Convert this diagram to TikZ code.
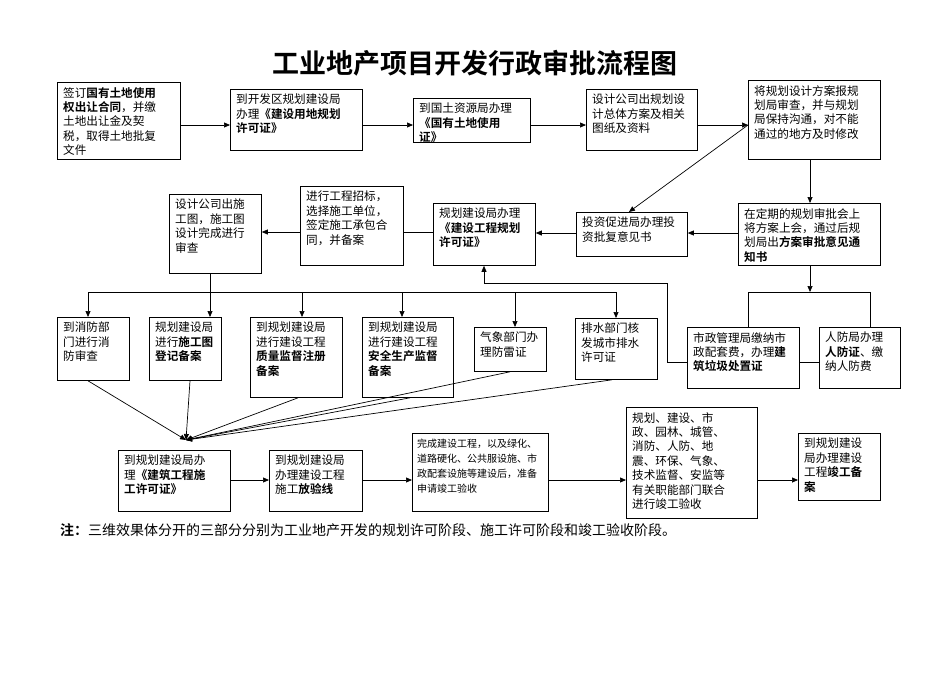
\documentclass[tikz,border=0pt]{standalone}
\usepackage{fontspec}
\setmainfont{Noto Sans CJK SC}[BoldFont={Noto Sans CJK SC Bold}]
\usetikzlibrary{arrows.meta,calc}
\tikzset{
  boxr/.style={draw, line width=0.8pt, inner sep=0pt, anchor=north west},
  txt/.style={anchor=north west, inner sep=0pt, align=left, font=\fontsize{11.6}{14.4}\selectfont},
  conn/.style={line width=0.7pt, -{Triangle[length=6pt,width=5pt]}},
  plain/.style={line width=0.7pt}
}
\newcommand{\bx}[6]{%
  \node[boxr, minimum width=#4pt, minimum height=#5pt] (#1) at (#2,#3) {};
  \node[txt] at ($(#1.north west)+(6,5)$) {#6};}
\begin{document}
\begin{tikzpicture}[x=1pt,y=-1pt]
\useasboundingbox (0,0) rectangle (950,672);
\node[font=\bfseries\fontsize{27}{30}\selectfont] (title) at (475,63) {工业地产项目开发行政审批流程图};
% row A
\bx{A1}{57}{82}{123}{77}{签订\textbf{国有土地使用}\\\textbf{权出让合同}，并缴\\土地出让金及契\\税，取得土地批复\\文件}
\bx{A2}{230}{89}{132}{61}{到开发区规划建设局\\办理\textbf{《建设用地规划}\\\textbf{许可证》}}
\bx{A3}{413}{98}{117}{44}{到国土资源局办理\\\textbf{《国有土地使用}\\\textbf{证》}}
\bx{A4}{586}{89}{111}{61}{设计公司出规划设\\计总体方案及相关\\图纸及资料}
\bx{A5}{748}{80}{132}{79}{将规划设计方案报规\\划局审查，并与规划\\局保持沟通，对不能\\通过的地方及时修改}
% row B
\bx{B1}{169}{194}{92}{79}{设计公司出施\\工图，施工图\\设计完成进行\\审查}
\bx{B2}{300}{186}{103}{79}{进行工程招标，\\选择施工单位，\\签定施工承包合\\同，并备案}
\bx{B3}{433}{203}{102}{62}{规划建设局办理\\\textbf{《建设工程规划}\\\textbf{许可证》}}
\bx{B4}{576}{212}{111}{44}{投资促进局办理投\\资批复意见书}
\bx{B5}{738}{203}{142}{62}{在定期的规划审批会上\\将方案上会，通过后规\\划局出\textbf{方案审批意见通}\\\textbf{知书}}
% row C
\bx{C1}{57}{317}{72}{63}{到消防部\\门进行消\\防审查}
\bx{C2}{149}{317}{72}{63}{规划建设局\\进行\textbf{施工图}\\\textbf{登记备案}}
\bx{C3}{250}{317}{92}{80}{到规划建设局\\进行建设工程\\\textbf{质量监督注册}\\\textbf{备案}}
\bx{C4}{362}{317}{91}{80}{到规划建设局\\进行建设工程\\\textbf{安全生产监督}\\\textbf{备案}}
\bx{C5}{474}{327}{72}{44}{气象部门办\\理防雷证}
\bx{C6}{575}{318}{82}{61}{排水部门核\\发城市排水\\许可证}
\bx{C7}{687}{327}{112}{61}{市政管理局缴纳市\\政配套费，办理\textbf{建}\\\textbf{筑垃圾处置证}}
\bx{C8}{819}{327}{81}{61}{人防局办理\\\textbf{人防证}、缴\\纳人防费}
% row D
\bx{D1}{118}{450}{112}{61}{到规划建设局办\\理\textbf{《建筑工程施}\\\textbf{工许可证》}}
\bx{D2}{269}{450}{93}{61}{到规划建设局\\办理建设工程\\施工\textbf{放验线}}
\node[boxr, minimum width=136pt, minimum height=78pt] (D3) at (412,433) {};
\node[txt, font=\fontsize{10}{15}\selectfont] at ($(D3.north west)+(5,6)$) {完成建设工程，以及绿化、\\道路硬化、公共服设施、市\\政配套设施等建设后，准备\\申请竣工验收};
\bx{D4}{626}{407}{131}{111}{规划、建设、市\\政、园林、城管、\\消防、人防、地\\震、环保、气象、\\技术监督、安监等\\有关职能部门联合\\进行竣工验收}
\bx{D5}{798}{433}{82}{67}{到规划建设\\局办理建设\\工程\textbf{竣工备}\\\textbf{案}}
\node[anchor=west, inner sep=0pt, font=\fontsize{14}{16}\selectfont] (note) at (60,530) {\textbf{注：}三维效果体分开的三部分分别为工业地产开发的规划许可阶段、施工许可阶段和竣工验收阶段。};
% connectors row A
\draw[conn] (A1.east |- 0,125) -- (A2.west |- 0,125);
\draw[conn] (A2.east |- 0,125) -- (A3.west |- 0,125);
\draw[conn] (A3.east |- 0,125) -- (A4.west |- 0,125);
\draw[conn] (A4.east |- 0,125) -- (A5.west |- 0,125);
\coordinate (a5w) at (A5.west |- 0,125);
\draw[conn] (a5w) -- ($(B4.north)+(-3,0)$);
\draw[conn] (A5.south -| 810,0) -- (B5.north -| 810,0);
\draw[conn] (B5.west |- 0,233) -- (B4.east |- 0,233);
\draw[conn] (B4.west |- 0,233) -- (B3.east |- 0,233);
\draw[plain] (B3.west |- 0,232) -- (B2.east |- 0,232);
\draw[conn] (B2.west |- 0,232) -- (B1.east |- 0,232);
% B1 bus
\coordinate (bus) at (210,292);
\draw[plain] (B1.south -| 210,0) -- (bus);
\draw[plain] (88,292) -- (616,292);
\foreach \c/\x in {C1/88,C2/210,C3/302,C4/402,C5/515,C6/616}
  \draw[conn] (\x,292) -- (\c.north -| \x,0);
% B5 bracket
\draw[conn] (B5.south -| 810,0) -- (810,292);
\draw[plain] (C7.north -| 748,0) |- (870,292) -- (C8.north -| 870,0);
% C7 to B3
\draw[conn] (C7.west |- 0,362) -| (667,283) -| (B3.south -| 484,0);
\draw[plain] (C7.east |- 0,362) -- (C8.west |- 0,362);
% converge
\coordinate (conv) at (186,440);
\draw[conn] (C1.south -| 88,0) -- (conv);
\draw[conn] (C2.south -| 190,0) -- (conv);
\draw[conn] (C3.south -| 298,0) -- (conv);
\draw[conn] (C4.south -| 410,0) -- (conv);
\draw[conn] (C5.south -| 510,0) -- (conv);
\draw[conn] (C6.south -| 612,0) -- (conv);
% row D
\draw[conn] (D1.east |- 0,480) -- (D2.west |- 0,480);
\draw[conn] (D2.east |- 0,480) -- (D3.west |- 0,480);
\draw[conn] (D3.east |- 0,480) -- (D4.west |- 0,480);
\draw[conn] (D4.east |- 0,480) -- (D5.west |- 0,480);
\end{tikzpicture}
\end{document}
